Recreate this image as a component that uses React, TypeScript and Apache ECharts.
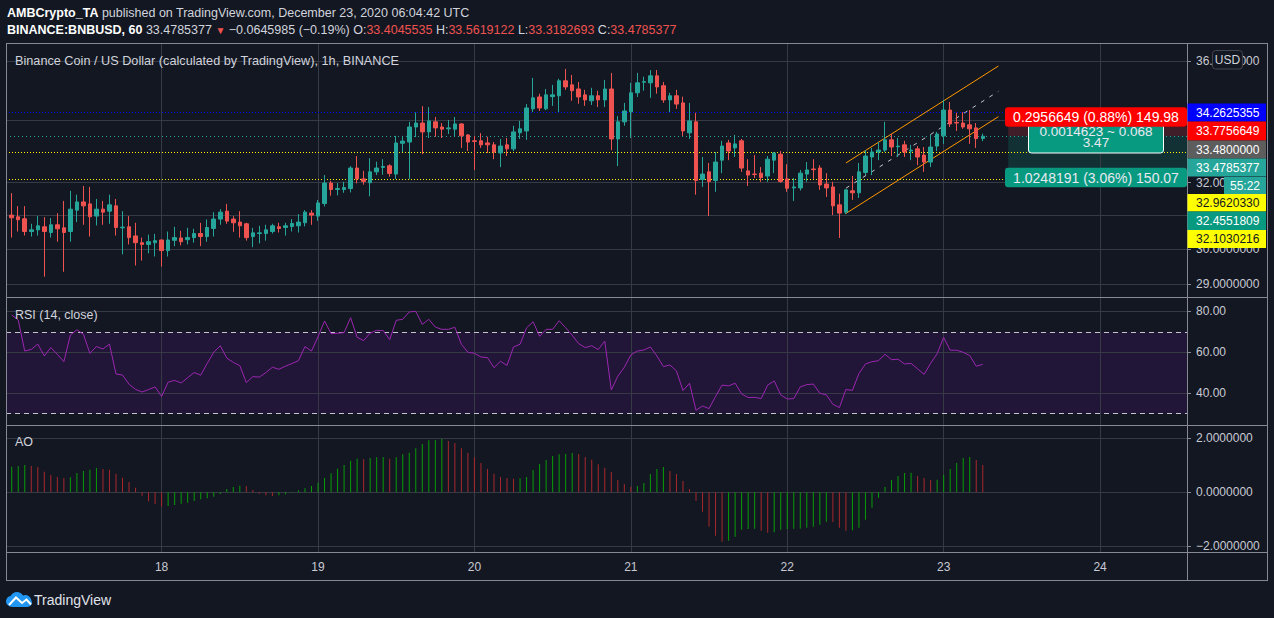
import React, { useEffect, useRef } from 'react';
import * as echarts from 'echarts';

// x = hours since 2020-12-17 00:00 UTC ; first candle at 01:00
const FIRST_HOUR = 1;

// [open, close, low, high] per 1h candle
const ohlc: number[][] = [
  [31.01, 30.93, 30.34, 31.68], [30.96, 30.87, 30.52, 31.28], [30.90, 30.52, 30.40, 31.28], [30.52, 30.57, 30.37, 30.75],
  [30.57, 30.69, 30.40, 30.98], [30.66, 30.52, 29.21, 30.95], [30.49, 30.72, 30.34, 30.92], [30.72, 30.60, 30.22, 31.07],
  [30.63, 30.49, 29.35, 31.44], [30.52, 31.19, 30.22, 31.75], [31.16, 31.41, 30.80, 31.63], [31.41, 31.29, 30.72, 31.90],
  [31.35, 30.96, 30.37, 31.87], [30.98, 31.19, 30.70, 31.50], [31.19, 31.10, 30.72, 31.44], [31.13, 31.32, 30.75, 31.63],
  [31.29, 30.64, 30.40, 31.50], [30.63, 30.65, 29.85, 31.13], [30.66, 30.34, 30.14, 30.98], [30.39, 30.19, 29.53, 30.78],
  [30.19, 30.14, 29.67, 30.34], [30.14, 30.22, 29.88, 30.43], [30.19, 30.25, 29.79, 30.45], [30.27, 29.96, 29.50, 30.28],
  [29.96, 30.27, 29.79, 30.52], [30.26, 30.34, 30.09, 30.66], [30.33, 30.22, 30.11, 30.54], [30.28, 30.34, 30.14, 30.63],
  [30.34, 30.46, 30.19, 30.60], [30.46, 30.37, 30.09, 30.78], [30.37, 30.64, 30.22, 30.88], [30.61, 30.89, 30.37, 31.10],
  [30.89, 31.10, 30.72, 31.19], [31.13, 30.83, 30.75, 31.35], [30.89, 30.78, 30.51, 30.98], [30.80, 30.69, 30.34, 31.13],
  [30.75, 30.34, 30.25, 30.78], [30.37, 30.48, 30.06, 30.63], [30.46, 30.48, 30.17, 30.69], [30.46, 30.57, 30.25, 30.72],
  [30.52, 30.69, 30.46, 30.75], [30.66, 30.61, 30.49, 30.78], [30.64, 30.69, 30.40, 30.78], [30.67, 30.76, 30.52, 30.89],
  [30.69, 30.80, 30.49, 31.04], [30.78, 31.10, 30.67, 31.16], [31.07, 31.01, 30.72, 31.16], [30.98, 31.38, 30.84, 31.47],
  [31.36, 31.99, 31.27, 32.24], [31.99, 31.79, 31.60, 32.06], [31.79, 31.82, 31.61, 31.99], [31.79, 31.85, 31.69, 32.03],
  [31.82, 32.46, 31.70, 32.52], [32.46, 32.12, 31.98, 32.84], [32.12, 32.04, 31.94, 32.37], [32.00, 32.34, 31.58, 32.77],
  [32.34, 32.46, 32.24, 32.66], [32.48, 32.51, 32.25, 32.74], [32.53, 32.29, 32.19, 32.58], [32.27, 33.26, 32.12, 33.49],
  [33.25, 33.32, 32.97, 33.49], [33.29, 33.78, 32.12, 33.95], [33.78, 33.91, 33.45, 34.26], [33.91, 33.62, 32.90, 34.47],
  [33.62, 33.98, 33.42, 34.44], [33.95, 33.75, 33.46, 34.11], [33.78, 33.71, 33.42, 33.91], [33.72, 33.75, 33.55, 34.01],
  [33.71, 33.88, 33.46, 34.11], [33.88, 33.49, 33.10, 33.91], [33.52, 33.29, 33.00, 33.55], [33.33, 33.31, 32.40, 33.49],
  [33.33, 33.20, 33.10, 33.58], [33.26, 33.20, 32.94, 33.46], [33.20, 32.97, 32.74, 33.29], [32.94, 33.16, 32.49, 33.39],
  [33.20, 33.07, 32.84, 33.42], [33.07, 33.62, 33.00, 33.82], [33.59, 33.72, 33.39, 33.98], [33.65, 34.41, 33.36, 34.54],
  [34.38, 34.75, 34.27, 35.43], [34.78, 34.41, 34.31, 34.89], [34.38, 34.85, 34.34, 35.05], [34.79, 34.85, 34.48, 35.19],
  [34.82, 35.33, 34.27, 35.40], [35.33, 35.12, 35.02, 35.74], [35.19, 34.99, 34.65, 35.53], [35.05, 34.78, 34.55, 35.29],
  [34.85, 34.68, 34.48, 35.02], [34.65, 34.82, 34.51, 35.09], [34.82, 34.68, 34.44, 34.99], [34.68, 35.05, 34.44, 35.36],
  [35.05, 33.39, 33.03, 35.60], [33.39, 33.95, 32.52, 34.14], [33.95, 34.31, 33.82, 34.58], [34.28, 34.92, 33.42, 35.26],
  [34.92, 35.26, 34.78, 35.60], [35.28, 35.30, 34.99, 35.47], [35.26, 35.50, 34.75, 35.70], [35.50, 35.12, 34.89, 35.70],
  [35.16, 34.68, 34.58, 35.29], [34.68, 34.82, 34.27, 34.92], [34.82, 34.54, 34.38, 35.02], [34.58, 33.65, 33.49, 34.79],
  [33.59, 33.98, 33.39, 34.58], [33.95, 32.07, 31.63, 34.25], [32.10, 32.27, 31.87, 32.81], [32.34, 32.04, 30.98, 32.62],
  [32.07, 32.65, 31.72, 32.97], [32.71, 33.16, 32.30, 33.33], [33.26, 33.00, 32.71, 33.36], [33.10, 33.23, 32.81, 33.52],
  [33.33, 32.46, 32.34, 33.39], [32.37, 32.24, 31.90, 32.74], [32.27, 32.26, 32.15, 32.87], [32.30, 32.16, 32.03, 32.49],
  [32.21, 32.74, 32.03, 32.84], [32.71, 32.94, 32.30, 32.97], [32.90, 32.04, 32.00, 33.00], [32.12, 31.83, 31.72, 32.58],
  [31.84, 31.87, 31.44, 32.15], [31.84, 32.30, 31.76, 32.40], [32.27, 32.40, 32.03, 32.65], [32.43, 32.41, 32.12, 32.74],
  [32.46, 31.93, 31.78, 32.55], [31.96, 31.84, 31.56, 32.30], [31.87, 31.29, 31.01, 32.03], [31.32, 31.07, 30.33, 31.66],
  [31.10, 31.78, 31.04, 31.79], [31.75, 31.69, 31.47, 32.21], [31.69, 32.34, 31.53, 32.62], [32.32, 32.84, 32.24, 33.03],
  [32.81, 32.97, 32.24, 33.10], [32.97, 33.03, 32.71, 33.29], [33.03, 33.36, 32.97, 33.95], [33.36, 33.13, 32.84, 33.55],
  [33.14, 33.16, 32.81, 33.42], [33.20, 32.97, 32.81, 33.33], [33.00, 33.03, 32.71, 33.20], [33.07, 32.81, 32.55, 33.16],
  [32.87, 32.65, 32.34, 33.13], [32.65, 33.13, 32.49, 33.52], [33.16, 33.55, 33.00, 33.62], [33.49, 34.34, 33.23, 34.68],
  [34.34, 33.88, 33.78, 34.61], [33.93, 33.91, 33.65, 34.25], [33.91, 33.78, 33.72, 34.27], [33.85, 33.72, 33.23, 34.34],
  [33.75, 33.40, 33.10, 33.91], [33.4045535, 33.4785377, 33.3182693, 33.5619122],
];

const rsi: number[] = [
  78.2, 75.8, 60.6, 61.4, 64.0, 58.2, 62.3, 59.0, 55.4, 68.4,
  71.0, 68.8, 59.5, 62.8, 61.6, 64.0, 49.4, 48.9, 44.4, 41.9,
  40.6, 41.8, 43.1, 38.4, 45.4, 46.3, 45.0, 47.6, 50.1, 48.8,
  54.6, 60.0, 63.2, 57.2, 55.1, 53.5, 45.2, 48.1, 47.9, 50.1,
  52.7, 51.7, 53.2, 54.5, 55.9, 62.8, 60.6, 67.6, 75.3, 69.1,
  69.3, 69.6, 76.9, 67.3, 65.7, 69.4, 70.7, 70.6, 66.2, 75.6,
  76.1, 79.7, 80.0, 73.6, 76.1, 72.3, 71.2, 71.2, 72.2, 63.9,
  60.0, 59.5, 57.7, 57.4, 52.5, 55.6, 53.6, 62.6, 63.9, 71.9,
  74.9, 67.8, 71.2, 71.2, 75.4, 72.0, 68.3, 64.2, 62.3, 63.2,
  61.3, 65.5, 41.6, 48.3, 52.7, 58.7, 60.6, 61.1, 62.6, 58.2,
  53.0, 53.8, 50.9, 41.3, 44.9, 31.7, 33.8, 32.5, 38.4, 44.0,
  43.6, 44.9, 39.7, 37.9, 38.0, 37.4, 44.0, 46.0, 39.2, 37.2,
  37.4, 43.1, 44.2, 44.5, 40.0, 39.2, 34.6, 33.0, 41.8, 41.4,
  49.6, 54.3, 55.4, 55.9, 59.0, 56.4, 56.6, 54.3, 54.6, 51.9,
  49.2, 54.6, 59.3, 67.3, 61.0, 61.0, 60.0, 58.4, 53.2, 54.1,
];

const ao: number[] = [
  0.951, 0.975, 1.012, 0.975, 0.938, 0.765, 0.642, 0.568, 0.531, 0.556,
  0.716, 0.790, 0.840, 0.901, 0.864, 0.840, 0.691, 0.543, 0.383, 0.173,
  -0.123, -0.333, -0.432, -0.531, -0.506, -0.469, -0.420, -0.383, -0.321, -0.259,
  -0.222, -0.160, -0.062, 0.123, 0.198, 0.247, 0.222, 0.086, -0.049, -0.111,
  -0.136, -0.111, -0.074, -0.012, 0.074, 0.148, 0.235, 0.358, 0.531, 0.704,
  0.877, 1.012, 1.173, 1.247, 1.222, 1.272, 1.296, 1.309, 1.247, 1.296,
  1.407, 1.469, 1.630, 1.790, 1.926, 1.938, 1.975, 1.901, 1.827, 1.630,
  1.469, 1.296, 1.086, 0.864, 0.691, 0.568, 0.531, 0.506, 0.519, 0.568,
  0.827, 1.049, 1.198, 1.346, 1.407, 1.420, 1.457, 1.420, 1.309, 1.210,
  1.037, 0.914, 0.753, 0.457, 0.309, 0.210, 0.230, 0.346, 0.679, 0.864,
  0.938, 0.790, 0.679, 0.420, 0.123, -0.309, -0.716, -1.272, -1.605, -1.827,
  -1.790, -1.642, -1.383, -1.358, -1.346, -1.420, -1.494, -1.481, -1.383, -1.358,
  -1.346, -1.340, -1.309, -1.272, -1.198, -1.086, -1.099, -1.309, -1.420, -1.407,
  -1.309, -1.012, -0.568, -0.198, 0.198, 0.457, 0.605, 0.716, 0.728, 0.605,
  0.531, 0.457, 0.469, 0.642, 0.864, 1.086, 1.272, 1.309, 1.198, 1.012,
];

const dayHours = [24, 48, 72, 96, 120, 144, 168];
const dayLabels = ['18', '19', '20', '21', '22', '23', '24'];
const priceGrid = [29, 30, 31, 32, 34, 36];
// the 31 and 34 labels are fully covered by price tags in the reference, so they are not drawn
const priceLabels = [29, 30, 32, 36];
const rsiTicks = [40, 60, 80];
const aoTicks = [-2, 0, 2];
const rsiBand = [30, 70];

const levelBlue = 34.2625355;
const lastPrice = 33.4785377;
const levelsYellow = [32.962033, 32.1030216];
const posStop = 33.7756649;
const posEntry = 33.48;
const posTarget = 32.4551809;
const posStartHour = 153.9;
const channelUpper = [[129, 32.62], [152.4, 35.84]];
const channelLower = [[129, 31.06], [152.4, 34.12]];
const channelMid = [[129, 31.83], [152.4, 34.97]];

const BG = '#131722';
const GRID_C = '#363a45';
const FRAME_C = '#868993';
const LABEL_C = '#c8cad3';
const UP = '#26a69a';
const DOWN = '#ef5350';
const FONT = '"Liberation Sans", Arial, sans-serif';
const X_MIN = 0.123;
const X_MAX = 181.34;

const CLOUD_D =
  'M6.5 15C3 15 0 12.4 0 9.3C0 6.6 2 4.4 4.6 4C5.6 1.7 8 0 10.9 0C13.5 0 15.8 1.4 16.9 3.5C17.6 3.2 18.4 3 19.2 3C22.4 3 25 5.4 25.3 8.5C25.8 9.1 26 9.8 26 10.6C26 13 24 15 21.5 15Z';
let shapeRegistered = false;
function ensureShape() {
  if (shapeRegistered) return;
  echarts.graphic.registerShape('tvcloud', echarts.graphic.extendPath(CLOUD_D, {}) as any);
  shapeRegistered = true;
}

function txt(x: number, y: number, text: string, o: any = {}) {
  const fontSize = o.fontSize ?? 12.5;
  return {
    type: 'text', x, y, z: o.z ?? 100, silent: true,
    style: {
      text, fill: o.fill ?? '#d1d4dc', fontSize, fontFamily: FONT,
      fontWeight: o.fontWeight ?? 'normal',
      align: o.align ?? 'left', textAlign: o.align ?? 'left',
      verticalAlign: 'middle', textVerticalAlign: 'middle',
      rich: o.rich,
    },
  };
}
function rect(x: number, y: number, w: number, h: number, fill: string, o: any = {}) {
  return {
    type: 'rect', z: o.z ?? 100, silent: true,
    shape: { x, y, width: w, height: h, r: o.r ?? 0 },
    style: { fill, stroke: o.stroke ?? null, lineWidth: o.lineWidth ?? 0 },
  };
}
function hline(x1: number, x2: number, y: number) {
  return { type: 'line', z: 99, silent: true, shape: { x1, y1: y, x2, y2: y }, style: { stroke: FRAME_C, lineWidth: 1 } };
}
function vline(x: number, y1: number, y2: number) {
  return { type: 'line', z: 99, silent: true, shape: { x1: x, y1, x2: x, y2 }, style: { stroke: FRAME_C, lineWidth: 1 } };
}

function buildOption() {
  const xs = (i: number) => FIRST_HOUR + i;
  const gridLineSeries = (gi: number, yVals: number[]) => ({
    type: 'line', xAxisIndex: gi, yAxisIndex: gi, data: [], z: 1, silent: true,
    markLine: {
      silent: true, symbol: ['none', 'none'], label: { show: false }, animation: false,
      lineStyle: { color: GRID_C, width: 1, type: 'solid' },
      emphasis: { disabled: true },
      data: [...dayHours.map((h) => ({ xAxis: h })), ...yVals.map((v) => ({ yAxis: v }))],
    },
  });
  const seg = (pts: number[][], ls: any) => [
    { coord: pts[0], lineStyle: ls },
    { coord: pts[1], lineStyle: ls },
  ];
  const rich = {
    b: { fill: '#ffffff', fontWeight: 'bold', fontSize: 12.5, fontFamily: FONT },
    n: { fill: '#d1d4dc', fontSize: 12.5, fontFamily: FONT },
    v: { fill: DOWN, fontSize: 12.5, fontFamily: FONT },
    r: { fill: DOWN, fontSize: 10, fontFamily: FONT },
  };
  const tag = (y1: number, y2: number, bg: string, t: string, fg = '#ffffff') => [
    rect(1187.5, y1, 78.5, y2 - y1, bg),
    txt(1196, (y1 + y2) / 2, t, { fill: fg, fontSize: 12 }),
  ];

  const graphic: any[] = [
    // header
    txt(7, 13, '{b|AMBCrypto_TA} {n|published on TradingView.com, December 23, 2020 06:04:42 UTC}', { rich }),
    txt(7, 30, '{b|BINANCE:BNBUSD, 60} {n|33.4785377} {r|▼} {n|−0.0645985 (−0.19%) O:}{v|33.4045535}{n| H:}{v|33.5619122}{n| L:}{v|33.3182693}{n| C:}{v|33.4785377}', { rich }),
    // pane titles
    txt(15, 61, 'Binance Coin / US Dollar (calculated by TradingView), 1h, BINANCE', { fontSize: 12.7 }),
    txt(15, 314.5, 'RSI (14, close)', { fontSize: 12.5 }),
    txt(15, 442, 'AO', { fontSize: 12.5 }),
    // frame
    hline(6, 1268, 43.5), hline(6, 1268, 297.5), hline(6, 1268, 425.5), hline(6, 1268, 552.5), hline(6, 1268, 580.5),
    vline(6.5, 43, 581), vline(1187.5, 43, 581), vline(1267.5, 43, 581),
    // USD badge
    rect(1212.5, 50.5, 30, 18.5, BG, { stroke: '#434651', lineWidth: 1, r: 3 }),
    txt(1227.5, 60, 'USD', { align: 'center', fontSize: 12 }),
    // price axis tags
    ...tag(103.5, 121.5, '#0000ff', '34.2625355'),
    ...tag(121.5, 140.5, '#ff0000', '33.7756649'),
    ...tag(140.5, 158.5, '#5d5d5d', '33.4800000'),
    ...tag(158.5, 176.5, UP, '33.4785377'),
    rect(1224, 177, 42, 17, UP),
    txt(1245, 185.7, '55:22', { align: 'center', fontSize: 12, fill: '#ffffff' }),
    ...tag(194, 211.5, '#ffff00', '32.9620330', '#131722'),
    ...tag(211.5, 230, '#089981', '32.4551809'),
    ...tag(230, 248, '#ffff00', '32.1030216', '#131722'),
    // position tool labels
    rect(1028.5, 118.5, 135, 34.5, '#089981', { stroke: '#ffffff', lineWidth: 1, r: 3 }),
    txt(1096, 131, '0.0014623 ~ 0.068', { align: 'center', fontSize: 13.5, fill: '#e8eaf0' }),
    txt(1096, 142.8, '3.47', { align: 'center', fontSize: 13.5, fill: '#e8eaf0' }),
    { ...rect(1005, 107.3, 182, 19.4, '#ff0000', { r: 3 }), z: 101 },
    { ...txt(1096, 117.2, '0.2956649 (0.88%) 149.98', { align: 'center', fontSize: 14, fill: '#ffffff' }), z: 102 },
    rect(1005, 167.7, 182, 19.6, '#089981', { r: 3 }),
    txt(1096, 177.7, '1.0248191 (3.06%) 150.07', { align: 'center', fontSize: 14, fill: '#e8eaf0' }),
    // logo
    { type: 'tvcloud', x: 6, y: 592, z: 100, silent: true, style: { fill: '#2196f3' } },
    {
      type: 'polyline', z: 101, silent: true,
      shape: { points: [[9, 605], [16, 597.5], [22, 603], [26.5, 599.5], [31, 604.5]] },
      style: { stroke: '#ffffff', lineWidth: 2, fill: null },
    },
    txt(34, 600, 'TradingView', { fontSize: 14, fill: '#e0e3eb' }),
  ];

  const xAxis = [0, 1, 2].map((i) => ({
    type: 'value', gridIndex: i, min: X_MIN, max: X_MAX,
    axisLine: { show: false },
    axisTick: { show: i === 2, customValues: dayHours, length: 4, lineStyle: { color: FRAME_C } },
    axisLabel: {
      show: i === 2, customValues: dayHours,
      formatter: (v: number) => dayLabels[dayHours.indexOf(Math.round(v))] ?? '',
      color: LABEL_C, fontSize: 12, margin: 9, fontFamily: FONT,
    },
    splitLine: { show: false },
  }));

  const yCommon = {
    position: 'right',
    axisLine: { show: false },
    splitLine: { show: false },
  };
  const yAxis = [
    {
      ...yCommon, type: 'log', logBase: 10, gridIndex: 0, min: 28.64, max: 36.65,
      axisTick: { show: true, customValues: priceGrid, length: 4, lineStyle: { color: FRAME_C } },
      axisLabel: { customValues: priceLabels, formatter: (v: number) => v.toFixed(7), color: LABEL_C, fontSize: 12, margin: 9, fontFamily: FONT },
    },
    {
      ...yCommon, type: 'value', gridIndex: 1, min: 24.5, max: 86.5,
      axisTick: { show: true, customValues: rsiTicks, length: 4, lineStyle: { color: FRAME_C } },
      axisLabel: { customValues: rsiTicks, formatter: (v: number) => v.toFixed(2), color: LABEL_C, fontSize: 12, margin: 9, fontFamily: FONT },
    },
    {
      ...yCommon, type: 'value', gridIndex: 2, min: -2.21, max: 2.456,
      axisTick: { show: true, customValues: aoTicks, length: 4, lineStyle: { color: FRAME_C } },
      axisLabel: { customValues: aoTicks, formatter: (v: number) => v.toFixed(7).replace('-', '−'), color: LABEL_C, fontSize: 12, margin: 9, fontFamily: FONT },
    },
  ];

  const series: any[] = [
    gridLineSeries(0, priceGrid),
    gridLineSeries(1, rsiTicks),
    gridLineSeries(2, aoTicks),
    // position zones
    {
      type: 'line', xAxisIndex: 0, yAxisIndex: 0, data: [], z: 2, silent: true,
      markArea: {
        silent: true, label: { show: false },
        data: [
          [{ coord: [posStartHour, posStop], itemStyle: { color: 'rgba(242,54,69,0.2)' } }, { coord: [X_MAX, posEntry] }],
          [{ coord: [posStartHour, posEntry], itemStyle: { color: 'rgba(8,153,129,0.2)' } }, { coord: [X_MAX, posTarget] }],
        ],
      },
    },
    // price levels + channel
    {
      type: 'line', xAxisIndex: 0, yAxisIndex: 0, data: [], z: 3, silent: true,
      markLine: {
        silent: true, symbol: ['none', 'none'], label: { show: false },
        emphasis: { disabled: true },
        data: [
          { yAxis: levelBlue, lineStyle: { color: '#0000ff', width: 1, type: [1, 2] } },
          { yAxis: lastPrice, lineStyle: { color: UP, width: 1, type: [1, 3] } },
          ...levelsYellow.map((v) => ({ yAxis: v, lineStyle: { color: '#ffff00', width: 1, type: [1, 2] } })),
          seg(channelUpper, { color: '#ff9800', width: 1, type: 'solid' }),
          seg(channelLower, { color: '#ff9800', width: 1, type: 'solid' }),
          seg(channelMid, { color: '#c0c3cc', width: 1, type: [4, 6] }),
        ],
      },
    },
    {
      type: 'candlestick', xAxisIndex: 0, yAxisIndex: 0, z: 5,
      barWidth: 4,
      encode: { x: 0, y: [1, 2, 3, 4] },
      data: ohlc.map((d, i) => [xs(i), d[0], d[1], d[2], d[3]]),
      itemStyle: { color: UP, color0: DOWN, borderColor: UP, borderColor0: DOWN, borderWidth: 1 },
    },
    // RSI band + dashed bounds
    {
      type: 'line', xAxisIndex: 1, yAxisIndex: 1, data: [], z: 1, silent: true,
      markArea: {
        silent: true, label: { show: false },
        itemStyle: { color: 'rgba(153,21,255,0.1)' },
        data: [[{ yAxis: rsiBand[0] }, { yAxis: rsiBand[1] }]],
      },
      markLine: {
        silent: true, symbol: ['none', 'none'], label: { show: false },
        emphasis: { disabled: true },
        lineStyle: { color: '#c3c5cc', width: 1, type: [5, 4] },
        data: rsiBand.map((v) => ({ yAxis: v })),
      },
    },
    {
      type: 'line', xAxisIndex: 1, yAxisIndex: 1, z: 5, showSymbol: false, silent: true,
      lineStyle: { color: '#9c27b0', width: 1 },
      data: rsi.map((v, i) => [xs(i), v]),
    },
    {
      type: 'bar', xAxisIndex: 2, yAxisIndex: 2, z: 5, barWidth: 1, silent: true,
      data: ao.map((v, i) => [xs(i), v]),
      itemStyle: {
        color: (p: any) => (p.dataIndex === 0 || ao[p.dataIndex] >= ao[p.dataIndex - 1] ? '#089c08' : '#a8282c'),
      },
    },
  ];

  return {
    backgroundColor: BG,
    animation: false,
    textStyle: { fontFamily: FONT },
    grid: [
      { left: 6, top: 43, width: 1181, height: 254 },
      { left: 6, top: 298, width: 1181, height: 127 },
      { left: 6, top: 426, width: 1181, height: 126 },
    ],
    xAxis,
    yAxis,
    series,
    graphic,
  };
}

export default function App() {
  const ref = useRef<HTMLDivElement>(null);
  useEffect(() => {
    document.body.style.margin = '0';
    document.body.style.background = BG;
    ensureShape();
    const chart = echarts.init(ref.current!, null, { renderer: 'svg' });
    chart.setOption(buildOption() as any);
    return () => chart.dispose();
  }, []);
  return <div ref={ref} style={{ width: 1274, height: 618, background: BG }} />;
}
